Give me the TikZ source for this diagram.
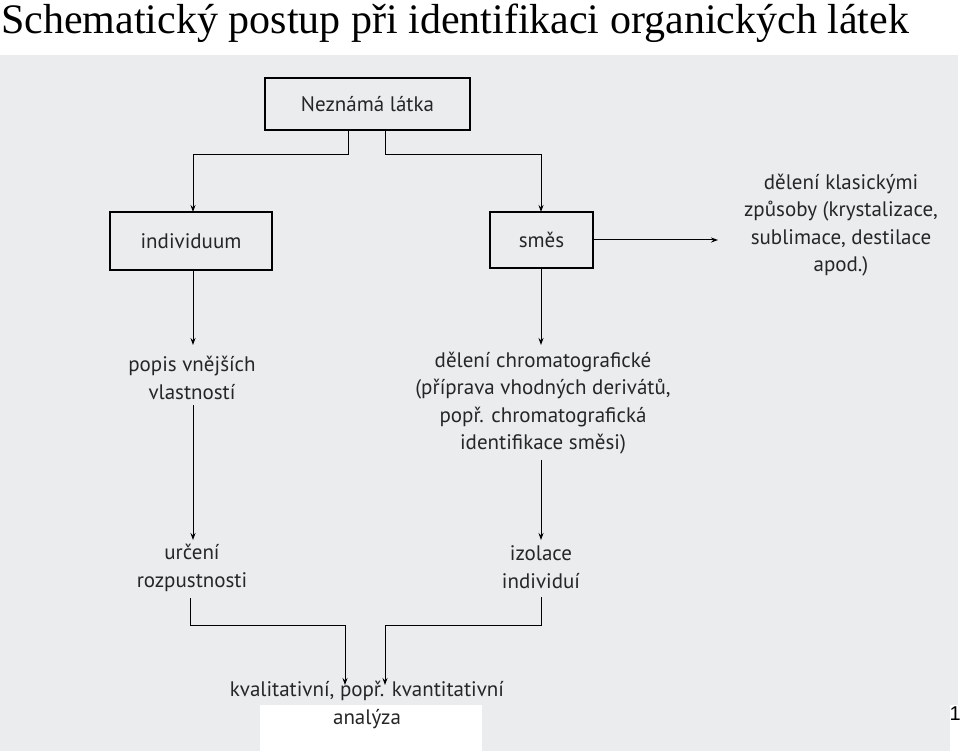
\documentclass[tikz,border=0pt]{standalone}
\usepackage{fontspec}
\setmainfont{Liberation Serif}
\newfontfamily\scanfont{PT Sans}
\newfontfamily\pgfont{Liberation Sans}
\usetikzlibrary{arrows.meta}
\definecolor{scan}{HTML}{EAECEE}
\tikzset{x=1pt,y=-1pt,
 box/.style={draw,line width=1.1pt,fill=scan,inner sep=0pt},
 lbl/.style={font=\scanfont\fontsize{21}{27.5}\selectfont,align=center,inner sep=0pt,text=black!85},
 conn/.style={line width=1pt},
 arr/.style={conn,-{Stealth[length=7pt,width=5pt]}}}
\begin{document}
\begin{tikzpicture}
\useasboundingbox (0,0) rectangle (960,751);
\fill[white] (0,0) rectangle (960,751);
\fill[scan] (0,55) rectangle (958,705);
\fill[scan] (0,705) rectangle (260,751);
\fill[scan] (482,705) rectangle (950,751);
\node[anchor=base west,inner sep=0pt,font=\fontsize{42}{46}\selectfont] (title) at (1,34) {Schematický postup při identifikaci organických látek};
\node[anchor=base east,inner sep=0pt,font=\pgfont\fontsize{20}{22}\selectfont] (pg) at (961,720) {1};

\node[box,minimum width=205,minimum height=52] (nez) at (367.5,104) {};
\node[lbl] at (nez) {Neznámá látka};
\node[box,minimum width=162,minimum height=58] (ind) at (191,241) {};
\node[lbl] at (ind) {individuum};
\node[box,minimum width=103,minimum height=56] (sm) at (541.5,240) {};
\node[lbl] at (sm) {směs};

\coordinate (n1) at (348,130); \coordinate (n2) at (385,130);
\draw[arr] (n1) -- (348,155) -- (193,155) -- (193,212);
\draw[arr] (n2) -- (385,155) -- (541,155) -- (541,212);

\node[lbl] (kl) at (841,225) {dělení klasickými\\způsoby (krystalizace,\\sublimace, destilace\\apod.)};
\coordinate (ke) at (718,240);
\draw[arr] (sm.east) -- (ke);

\node[lbl] (pop) at (192,378) {popis vnějších\\vlastností};
\draw[arr] (193,270) -- (193,345);
\node[lbl] (ur) at (192,568) {určení\\rozpustnosti};
\draw[arr] (193,405) -- (193,540);

\node[lbl] (del) at (543,403) {dělení chromatografické\\(příprava vhodných derivátů,\\popř. chromatografická\\identifikace směsi)};
\draw[arr] (541,268) -- (541,345);
\node[lbl] (izo) at (541,567) {izolace\\individuí};
\draw[arr] (541,460) -- (541,540);

\node[lbl] (kv) at (367,705) {kvalitativní, popř. kvantitativní\\analýza};
\draw[arr] (190,598) -- (190,625) -- (345,625) -- (345,685);
\draw[arr] (541,597) -- (541,625) -- (385,625) -- (385,685);
\end{tikzpicture}
\end{document}
